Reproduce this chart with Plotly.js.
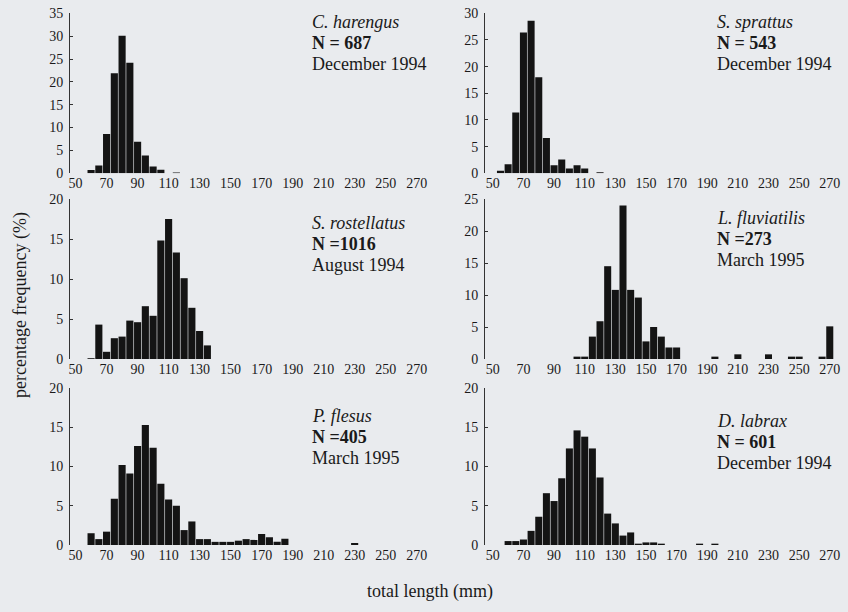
<!DOCTYPE html>
<html>
<head>
<meta charset="utf-8">
<script src="https://cdn.plot.ly/plotly-3.0.1.min.js"></script>
<style>
  html, body { margin: 0; padding: 0; background: #e9ebee; }
  #chart { width: 848px; height: 612px; }
</style>
</head>
<body>
<div id="chart"></div>
<script>
// ---- Data: bin centres (total length, mm) and percentage frequency ----
const harengusLen = [60, 65, 70, 75, 80, 85, 90, 95, 100, 105, 115];
const harengusPct = [0.7, 1.7, 8.6, 21.9, 30.1, 24.2, 6.9, 3.9, 1.5, 0.8, 0.15];

const sprattusLen = [55, 60, 65, 70, 75, 80, 85, 90, 95, 100, 105, 110, 120];
const sprattusPct = [0.5, 1.7, 11.4, 26.4, 28.6, 18.0, 6.6, 1.5, 2.6, 0.9, 1.5, 0.9, 0.18];

const rostellatusLen = [60, 65, 70, 75, 80, 85, 90, 95, 100, 105, 110, 115, 120, 125, 130, 135];
const rostellatusPct = [0.1, 4.3, 0.9, 2.6, 2.8, 4.8, 4.6, 6.6, 5.4, 14.8, 17.5, 13.3, 10.1, 6.4, 3.5, 1.7];

const fluviatilisLen = [105, 110, 115, 120, 125, 130, 135, 140, 145, 150, 155, 160, 165, 170, 195, 210, 230, 245, 250, 265, 270];
const fluviatilisPct = [0.37, 0.37, 3.5, 5.9, 14.5, 10.8, 24.0, 10.8, 9.6, 2.75, 5.0, 3.5, 1.8, 1.8, 0.37, 0.73, 0.73, 0.37, 0.37, 0.37, 5.1];

const flesusLen = [60, 65, 70, 75, 80, 85, 90, 95, 100, 105, 110, 115, 120, 125, 130, 135, 140, 145, 150, 155, 160, 165, 170, 175, 180, 185, 230];
const flesusPct = [1.5, 0.75, 1.7, 5.9, 10.2, 9.1, 12.6, 15.3, 12.4, 7.8, 5.8, 5.0, 1.9, 3.0, 0.75, 0.75, 0.4, 0.4, 0.4, 0.55, 0.75, 0.65, 1.4, 1.0, 0.4, 0.8, 0.25];

const labraxLen = [60, 65, 70, 75, 80, 85, 90, 95, 100, 105, 110, 115, 120, 125, 130, 135, 140, 145, 150, 155, 160, 185, 195];
const labraxPct = [0.5, 0.5, 0.7, 1.8, 3.6, 6.6, 5.6, 8.5, 12.3, 14.6, 13.8, 12.3, 8.6, 4.0, 2.75, 1.2, 1.6, 0.17, 0.33, 0.33, 0.17, 0.17, 0.17];

const tickLabels = [50, 70, 90, 110, 130, 150, 170, 190, 210, 230, 250, 270];

const panelSpecies = ["C. harengus", "S. sprattus", "S. rostellatus", "L. fluviatilis", "P. flesus", "D. labrax"];
const panelN = ["N = 687", "N = 543", "N =1016", "N =273", "N =405", "N = 601"];
const panelDate = ["December 1994", "December 1994", "August 1994", "March 1995", "March 1995", "December 1994"];
const yMax = [35, 30, 20, 25, 20, 20];

const xTitle = "total length (mm)";
const yTitle = "percentage frequency (%)";

// ---- Build ----
const series = [
  [harengusLen, harengusPct],
  [sprattusLen, sprattusPct],
  [rostellatusLen, rostellatusPct],
  [fluviatilisLen, fluviatilisPct],
  [flesusLen, flesusPct],
  [labraxLen, labraxPct]
];

const W = 848, H = 612;
const serif = "'Liberation Serif', 'DejaVu Serif', serif";
const ink = "#141414";

// layout geometry (pixels)
const colX = [[70, 432.8], [485, 846]];
const colRange = [[46.4, 280.4], [44.9, 280.6]];
const rowY = [[13.3, 173.3], [199, 359], [388, 545]];
const textX = [310, 715];
const textY = [[22, 43, 64], [22, 43, 64], [223, 244, 265], [218, 239, 260], [416, 437, 458], [421, 442, 463]];

const traces = [];
const layout = {
  width: W, height: H,
  margin: {l: 0, r: 0, t: 0, b: 0},
  paper_bgcolor: "#e9ebee",
  plot_bgcolor: "rgba(0,0,0,0)",
  showlegend: false,
  bargap: 0.08,
  font: {family: serif, color: "#1a1a1a", size: 14},
  annotations: []
};

for (let i = 0; i < 6; i++) {
  const col = i % 2, row = Math.floor(i / 2);
  const sfx = i === 0 ? "" : String(i + 1);
  traces.push({
    type: "bar",
    x: series[i][0], y: series[i][1],
    xaxis: "x" + sfx, yaxis: "y" + sfx,
    marker: {color: ink, line: {width: 0}},
    hoverinfo: "x+y"
  });
  layout["xaxis" + sfx] = {
    domain: [colX[col][0] / W, colX[col][1] / W],
    range: colRange[col],
    anchor: "y" + sfx,
    tickmode: "array",
    tickvals: tickLabels,
    ticktext: tickLabels.map(String),
    ticks: "",
    showline: false,
    showgrid: false,
    zeroline: false,
    tickfont: {family: serif, size: 14, color: "#1a1a1a"},
    fixedrange: true
  };
  layout["yaxis" + sfx] = {
    domain: [1 - rowY[row][1] / H, 1 - rowY[row][0] / H],
    range: [0, yMax[i]],
    anchor: "x" + sfx,
    dtick: 5,
    tick0: 0,
    ticks: "inside",
    ticklen: 3,
    tickwidth: 1,
    tickcolor: "#333",
    showline: true,
    linecolor: "#333",
    linewidth: 1,
    showgrid: false,
    zeroline: false,
    ticklabelstandoff: 3,
    tickfont: {family: serif, size: 14, color: "#1a1a1a"},
    fixedrange: true
  };
  const lines = ["<i>" + panelSpecies[i] + "</i>", "<b>" + panelN[i] + "</b>", panelDate[i]];
  for (let k = 0; k < 3; k++) {
    layout.annotations.push({
      xref: "paper", yref: "paper",
      x: textX[col] / W, y: 1 - textY[i][k] / H,
      xanchor: "left", yanchor: "middle",
      text: lines[k], showarrow: false,
      font: {family: serif, size: 18, color: "#1a1a1a"}
    });
  }
}

layout.annotations.push({
  xref: "paper", yref: "paper", x: 430 / W, y: 1 - 591 / H,
  xanchor: "center", yanchor: "middle", showarrow: false,
  text: xTitle, font: {family: serif, size: 18, color: "#1a1a1a"}
});
layout.annotations.push({
  xref: "paper", yref: "paper", x: 20 / W, y: 1 - 305 / H,
  xanchor: "center", yanchor: "middle", showarrow: false, textangle: -90,
  text: yTitle, font: {family: serif, size: 18, color: "#1a1a1a"}
});

Plotly.newPlot("chart", traces, layout, {displayModeBar: false, staticPlot: true});
</script>
</body>
</html>
